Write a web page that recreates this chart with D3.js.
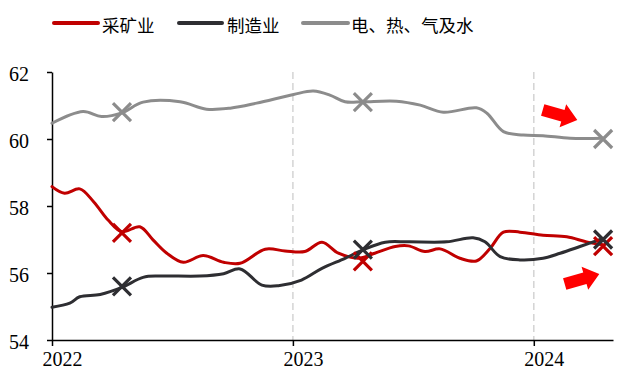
<!DOCTYPE html>
<html>
<head>
<meta charset="utf-8">
<script src="https://cdn.jsdelivr.net/npm/d3@7"></script>
<style>
  html, body { margin: 0; padding: 0; background: #fff; }
  svg { display: block; }
</style>
</head>
<body>
<svg id="chart" width="635" height="382"></svg>
<script>
// PMI readings by sector (采矿业 / 制造业 / 电、热、气及水)
const seriesNames = ["采矿业", "制造业", "电、热、气及水"];
const seriesColors = ["#C00000", "#2E2E32", "#8C8C8C"];

const miningDates = ["2022-01-01","2022-01-20","2022-02-12","2022-03-05","2022-03-27","2022-04-17","2022-05-14","2022-06-03","2022-06-24","2022-07-19","2022-08-18","2022-09-18","2022-10-13","2022-11-20","2022-12-20","2023-01-19","2023-02-14","2023-03-11","2023-04-10","2023-05-05","2023-06-05","2023-06-25","2023-07-20","2023-08-12","2023-09-11","2023-10-06","2023-10-27","2023-11-16","2023-12-11","2024-01-15","2024-02-20","2024-03-21","2024-04-15"];
const miningValues = [58.58,58.38,58.51,58.13,57.58,57.23,57.38,56.99,56.59,56.32,56.52,56.32,56.29,56.71,56.66,56.64,56.92,56.59,56.44,56.59,56.79,56.81,56.64,56.72,56.44,56.36,56.74,57.22,57.22,57.13,57.08,56.93,56.84];

const mfgDates = ["2022-01-01","2022-01-28","2022-02-12","2022-03-15","2022-04-17","2022-05-19","2022-06-14","2022-08-13","2022-09-18","2022-10-13","2022-11-15","2022-12-10","2023-01-14","2023-02-14","2023-03-21","2023-04-17","2023-05-21","2023-06-25","2023-08-22","2023-10-01","2023-10-19","2023-11-11","2023-12-11","2024-01-15","2024-02-10","2024-03-11","2024-04-15"];
const mfgValues = [54.98,55.10,55.29,55.36,55.57,55.87,55.91,55.91,55.98,56.12,55.64,55.62,55.79,56.14,56.44,56.69,56.92,56.93,56.93,57.05,56.93,56.49,56.39,56.44,56.59,56.79,57.03];

const utilDates = ["2022-01-01","2022-02-17","2022-03-17","2022-04-17","2022-05-19","2022-07-14","2022-08-23","2022-09-28","2022-11-07","2023-01-02","2023-02-01","2023-02-26","2023-03-21","2023-04-17","2023-06-07","2023-07-13","2023-08-17","2023-10-06","2023-10-22","2023-11-16","2023-12-16","2024-01-15","2024-02-25","2024-04-15"];
const utilValues = [60.47,60.82,60.67,60.78,61.10,61.11,60.89,60.92,61.07,61.33,61.43,61.31,61.11,61.11,61.13,61.01,60.80,60.93,60.77,60.22,60.12,60.10,60.02,60.02];

// "×" markers on each series
const markerDates = ["2022-04-17","2023-04-17","2024-04-15"];
const miningMarks = [57.2, 56.35, 56.8];
const mfgMarks = [55.6, 56.7, 57.0];
const utilMarks = [60.8, 61.1, 60.0];

const yTicks = [54, 56, 58, 60, 62];
const xTickYears = ["2022-01-01", "2023-01-01", "2024-01-01"];
const xTickLabels = ["2022", "2023", "2024"];
const xDomain = ["2022-01-01", "2024-04-30"];

const parse = d3.timeParse("%Y-%m-%d");
const svg = d3.select("#chart");

const x = d3.scaleTime().domain(xDomain.map(parse)).range([52, 613]);
const y = d3.scaleLinear().domain([54, 62]).range([340, 72]);

// dashed year separators
svg.append("g").selectAll("line")
  .data(xTickYears.slice(1).map(parse))
  .join("line")
  .attr("x1", d => x(d)).attr("x2", d => x(d))
  .attr("y1", y(62)).attr("y2", y(54))
  .attr("stroke", "#D4D4D4").attr("stroke-width", 1.5)
  .attr("stroke-dasharray", "7,4");

// axes
const yAxis = d3.axisLeft(y).tickValues(yTicks).tickSize(5).tickSizeOuter(0).tickPadding(18);
const gy = svg.append("g").attr("transform", "translate(52,0)").call(yAxis);
gy.selectAll("text").attr("font-family", "'Liberation Serif', serif").attr("font-size", 20).attr("fill", "#000").attr("dy", "0.42em");

const xAxis = d3.axisBottom(x).tickValues(xTickYears.map(parse))
  .tickFormat((d, i) => xTickLabels[i]).tickSize(6).tickSizeOuter(0).tickPadding(6);
const gx = svg.append("g").attr("transform", "translate(0,340)").call(xAxis);
gx.selectAll("text").attr("font-family", "'Liberation Serif', serif").attr("font-size", 20).attr("fill", "#000").attr("dx", 10);

[gx, gy].forEach(g => {
  g.select(".domain").attr("stroke", "#000").attr("stroke-width", 1.5);
  g.selectAll(".tick line").attr("stroke", "#000").attr("stroke-width", 1.5);
});

// series lines
const series = [
  { dates: miningDates, values: miningValues, marks: miningMarks, color: seriesColors[0] },
  { dates: mfgDates, values: mfgValues, marks: mfgMarks, color: seriesColors[1] },
  { dates: utilDates, values: utilValues, marks: utilMarks, color: seriesColors[2] }
];

const line = d3.line().x(d => x(d[0])).y(d => y(d[1])).curve(d3.curveCatmullRom.alpha(0.5));

series.forEach(s => {
  const pts = s.dates.map((d, i) => [parse(d), s.values[i]]);
  svg.append("path").datum(pts)
    .attr("d", line).attr("fill", "none")
    .attr("stroke", s.color).attr("stroke-width", 3)
    .attr("stroke-linejoin", "round").attr("stroke-linecap", "round");
});

// × markers
const half = 9;
series.forEach(s => {
  const g = svg.append("g");
  markerDates.forEach((d, i) => {
    const cx = x(parse(d)), cy = y(s.marks[i]);
    g.append("path")
      .attr("d", `M${cx - half},${cy - half}L${cx + half},${cy + half}M${cx - half},${cy + half}L${cx + half},${cy - half}`)
      .attr("stroke", s.color).attr("stroke-width", 3.2).attr("fill", "none");
  });
});

// red block arrows
const arrowShape = "M-18,-6L3,-6L3,-12L18,0L3,12L3,6L-18,6Z";
[
  { cx: 560, cy: 115, rot: 16 },
  { cx: 582, cy: 279, rot: -16 }
].forEach(a => {
  svg.append("path").attr("d", arrowShape)
    .attr("transform", `translate(${a.cx},${a.cy}) rotate(${a.rot})`)
    .attr("fill", "#FF0000");
});

// legend
const legendItems = [
  { name: seriesNames[0], color: seriesColors[0], x0: 54, x1: 98, tx: 102 },
  { name: seriesNames[1], color: seriesColors[1], x0: 179, x1: 222, tx: 227 },
  { name: seriesNames[2], color: seriesColors[2], x0: 303, x1: 348, tx: 351 }
];
const lg = svg.append("g");
legendItems.forEach(it => {
  lg.append("line").attr("x1", it.x0).attr("x2", it.x1).attr("y1", 23).attr("y2", 23)
    .attr("stroke", it.color).attr("stroke-width", 4).attr("stroke-linecap", "round");
  lg.append("text").attr("x", it.tx).attr("y", 24)
    .attr("dominant-baseline", "central")
    .attr("font-family", "'Noto Sans CJK SC', sans-serif").attr("font-size", 17.5)
    .attr("fill", "#000").text(it.name);
});
</script>
</body>
</html>
